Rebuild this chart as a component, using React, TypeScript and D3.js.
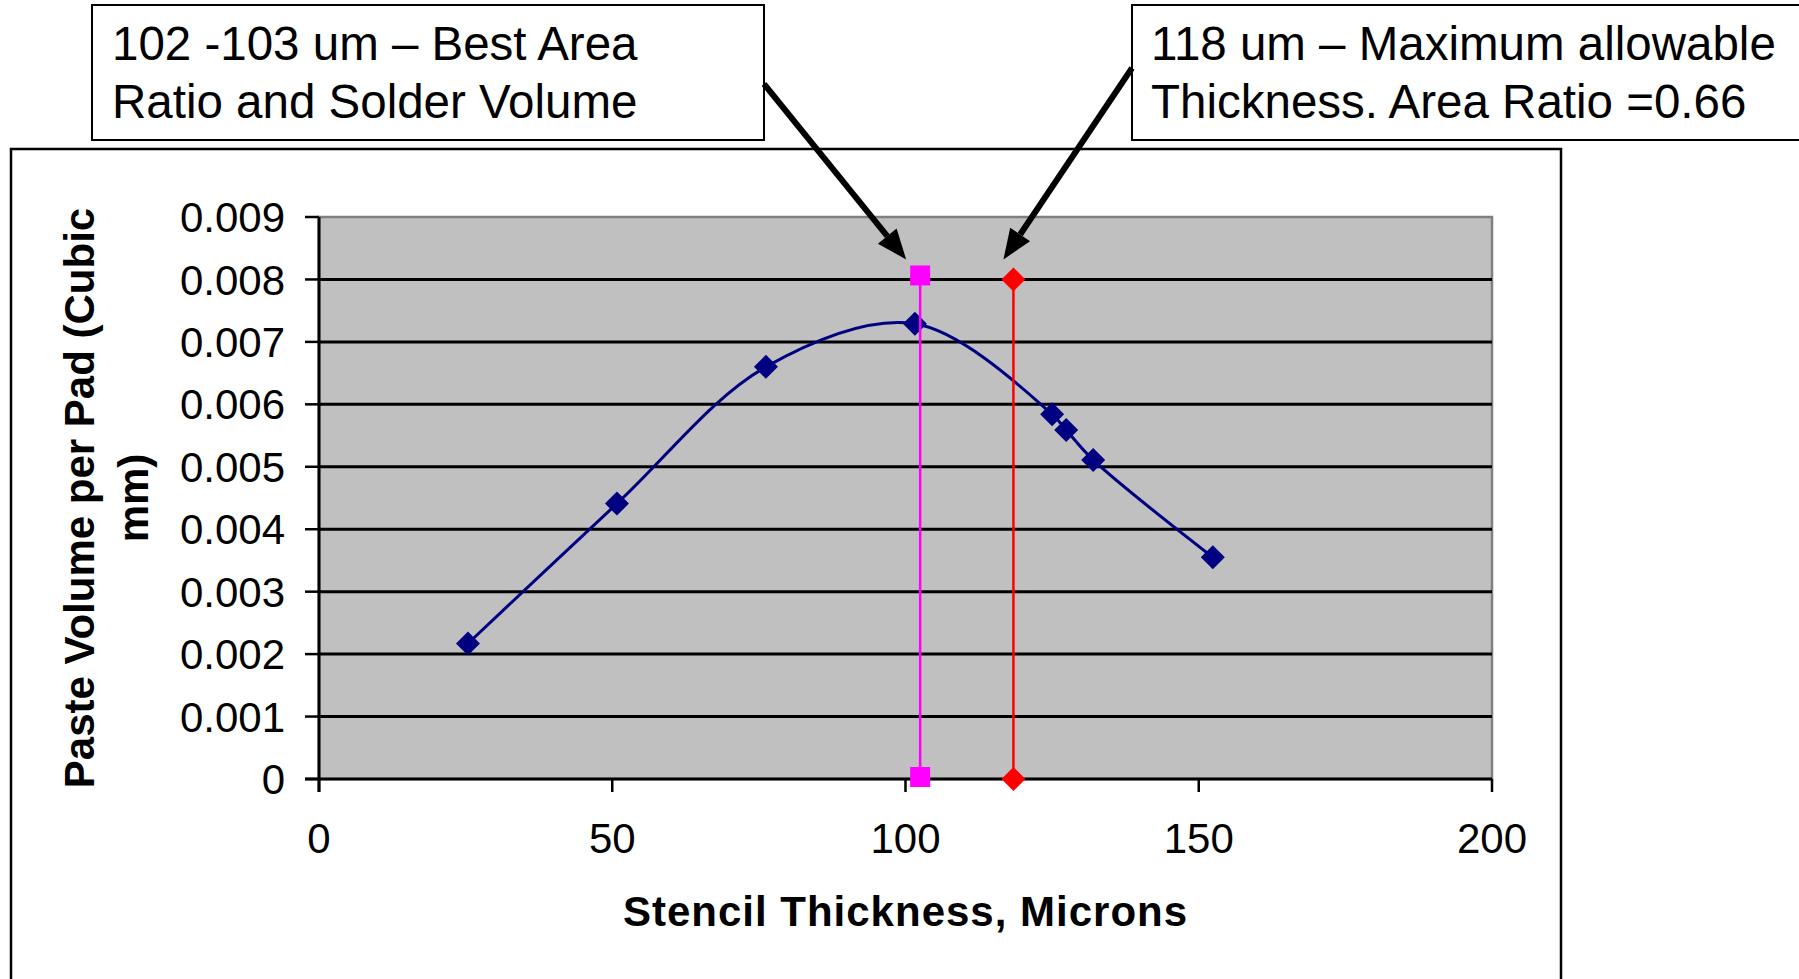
import * as d3 from "d3";

// stencil thickness (microns) vs paste volume per pad (cubic mm)
const thickness = [25.4, 50.8, 76.2, 101.6, 125, 127.4, 132, 152.4];
const pasteVolume = [0.00217, 0.00441, 0.0066, 0.00729, 0.00584, 0.00559, 0.00511, 0.00355];

// vertical marker lines
const bestX = [102.5, 102.5];
const bestY = [0, 0.008];
const maxX = [118.4, 118.4];
const maxY = [0, 0.008];

const xTicks = [0, 50, 100, 150, 200];
const yTicks = [0, 0.001, 0.002, 0.003, 0.004, 0.005, 0.006, 0.007, 0.008, 0.009];

const bestText = ["102 -103 um \u2013 Best Area", "Ratio and Solder Volume"];
const maxText = ["118 um \u2013 Maximum allowable", "Thickness. Area Ratio =0.66"];

const FONT = "'Liberation Sans', Arial, sans-serif";
const W = 1799;
const H = 979;

function Arrow({ x1, y1, x2, y2 }: { x1: number; y1: number; x2: number; y2: number }) {
  const a = Math.atan2(y2 - y1, x2 - x1);
  const len = 30;
  const hw = 12;
  const bx = x2 - len * Math.cos(a);
  const by = y2 - len * Math.sin(a);
  const px = -Math.sin(a) * hw;
  const py = Math.cos(a) * hw;
  return (
    <g>
      <line x1={x1} y1={y1} x2={bx} y2={by} stroke="#000" strokeWidth={6} />
      <polygon points={`${x2},${y2} ${bx + px},${by + py} ${bx - px},${by - py}`} fill="#000" />
    </g>
  );
}

export default function App() {
  const plot = { left: 319, right: 1492, top: 217, bottom: 779 };

  const x = d3.scaleLinear().domain([0, 200]).range([plot.left, plot.right]);
  const y = d3.scaleLinear().domain([0, 0.009]).range([plot.bottom, plot.top]);

  const pts = thickness.map((t, i) => [x(t), y(pasteVolume[i])] as [number, number]);
  const curve = d3.line().curve(d3.curveCatmullRom.alpha(0.5))(pts) || "";

  const diamond = (cx: number, cy: number, r: number) =>
    `M${cx},${cy - r}L${cx + r},${cy}L${cx},${cy + r}L${cx - r},${cy}Z`;

  const midY = (plot.top + plot.bottom) / 2;
  const midX = (plot.left + plot.right) / 2;

  return (
    <svg
      width={W}
      height={H}
      viewBox={`0 0 ${W} ${H}`}
      style={{ position: "absolute", left: 0, top: 0, display: "block", background: "#fff" }}
      fontFamily={FONT}
    >
      {/* chart frame */}
      <rect x={11} y={149} width={1550} height={H} fill="#fff" stroke="#000" strokeWidth={2.5} />

      {/* plot area */}
      <rect
        x={plot.left}
        y={plot.top}
        width={plot.right - plot.left}
        height={plot.bottom - plot.top}
        fill="#c0c0c0"
        stroke="#808080"
        strokeWidth={2.5}
      />

      {/* gridlines */}
      {yTicks.slice(1, -1).map((t) => (
        <line key={t} x1={plot.left} x2={plot.right} y1={y(t)} y2={y(t)} stroke="#000" strokeWidth={3} />
      ))}

      {/* axes */}
      <line x1={plot.left} x2={plot.left} y1={plot.top} y2={plot.bottom + 13} stroke="#000" strokeWidth={3} />
      <line x1={plot.left - 14} x2={plot.right} y1={plot.bottom} y2={plot.bottom} stroke="#000" strokeWidth={3} />
      {yTicks.map((t) => (
        <g key={t}>
          <line x1={plot.left - 14} x2={plot.left} y1={y(t)} y2={y(t)} stroke="#000" strokeWidth={2.5} />
          <text x={285} y={y(t)} dy="0.36em" textAnchor="end" fontSize={42}>
            {t === 0 ? "0" : t.toFixed(3)}
          </text>
        </g>
      ))}
      {xTicks.map((t) => (
        <g key={t}>
          <line x1={x(t)} x2={x(t)} y1={plot.bottom} y2={plot.bottom + 13} stroke="#000" strokeWidth={2.5} />
          <text x={x(t)} y={853} textAnchor="middle" fontSize={42}>
            {t}
          </text>
        </g>
      ))}

      {/* axis titles */}
      <text x={midX} y={926} textAnchor="middle" fontSize={42} fontWeight="bold" letterSpacing={1}>
        Stencil Thickness, Microns
      </text>
      <g transform={`translate(94,${midY}) rotate(-90)`}>
        <text x={0} y={0} textAnchor="middle" fontSize={42} fontWeight="bold">
          Paste Volume per Pad (Cubic
        </text>
        <text x={0} y={54} textAnchor="middle" fontSize={42} fontWeight="bold">
          mm)
        </text>
      </g>

      {/* series */}
      <path d={curve} fill="none" stroke="#000080" strokeWidth={3} />
      {pts.map(([cx, cy], i) => (
        <path key={i} d={diamond(cx, cy, 12)} fill="#000080" />
      ))}

      {/* best area ratio line */}
      <line x1={x(bestX[0])} x2={x(bestX[1])} y1={y(bestY[0])} y2={y(bestY[1])} stroke="#ff00ff" strokeWidth={2.5} />
      {bestX.map((bx, i) => (
        <rect key={i} x={x(bx) - 10} y={y(bestY[i]) - (i === 0 ? 12 : 14)} width={20} height={20} fill="#ff00ff" />
      ))}

      {/* maximum thickness line */}
      <line x1={x(maxX[0])} x2={x(maxX[1])} y1={y(maxY[0])} y2={y(maxY[1])} stroke="#ff0000" strokeWidth={2.5} />
      {maxX.map((mx, i) => (
        <path key={i} d={diamond(x(mx), y(maxY[i]), 12)} fill="#ff0000" />
      ))}

      {/* callouts */}
      <rect x={92} y={5} width={672} height={135} fill="#fff" stroke="#000" strokeWidth={2} />
      {bestText.map((s, i) => (
        <text key={i} x={112} y={60 + i * 58} fontSize={47.5}>
          {s}
        </text>
      ))}
      <rect x={1132} y={5} width={700} height={135} fill="#fff" stroke="#000" strokeWidth={2} />
      {maxText.map((s, i) => (
        <text key={i} x={1151} y={60 + i * 58} fontSize={47.5}>
          {s}
        </text>
      ))}

      <Arrow x1={764} y1={84} x2={x(bestX[1]) - 14} y2={y(bestY[1]) - 20} />
      <Arrow x1={1132} y1={68} x2={x(maxX[1]) - 10} y2={y(maxY[1]) - 20} />
    </svg>
  );
}
